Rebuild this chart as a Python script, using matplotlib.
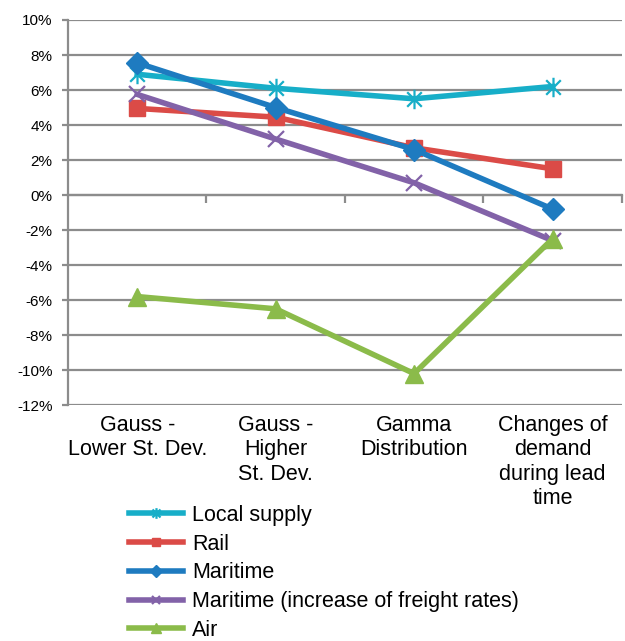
import matplotlib
matplotlib.use("Agg")
import matplotlib.pyplot as plt
from matplotlib.path import Path

plt.rcParams['font.family'] = ['Liberation Sans', 'DejaVu Sans']

categories = ["Gauss -\nLower St. Dev.", "Gauss -\nHigher\nSt. Dev.",
              "Gamma\nDistribution", "Changes of\ndemand\nduring lead\ntime"]
local_supply = [6.9, 6.1, 5.5, 6.2]
rail = [4.95, 4.45, 2.7, 1.5]
maritime = [7.55, 5.0, 2.6, -0.8]
maritime_freight = [5.75, 3.2, 0.7, -2.6]
air = [-5.8, -6.5, -10.2, -2.5]
y_ticks = list(range(-12, 11, 2))

# Asterisk marker: vertical bar plus an X
star = Path([(0, -1), (0, 1), (-0.75, -0.75), (0.75, 0.75), (-0.75, 0.75), (0.75, -0.75)],
            [Path.MOVETO, Path.LINETO, Path.MOVETO, Path.LINETO, Path.MOVETO, Path.LINETO])

series = [
    ("Local supply", local_supply, '#17AEC8', star, 14, 1.6),
    ("Rail", rail, '#DB4B47', 's', 11, 1),
    ("Maritime", maritime, '#1E7BC0', 'D', 11, 1),
    ("Maritime (increase of freight rates)", maritime_freight, '#8262A8', 'x', 11, 1.6),
    ("Air", air, '#8BBB4A', '^', 13, 1),
]

fig = plt.figure(figsize=(6.25, 6.41), dpi=100)
ax = fig.add_axes([0.1088, 0.368, 0.886, 0.6008])

x = list(range(len(categories)))
for name, vals, col, mk, ms, mew in series:
    ax.plot(x, vals, color=col, lw=4, marker=mk, markersize=ms,
            markerfacecolor=col, markeredgecolor=col, markeredgewidth=mew,
            label=name, zorder=3, solid_joinstyle='round')

ax.set_xlim(-0.5, 3.5)
ax.set_ylim(-12, 10)
ax.set_yticks(y_ticks)
ax.set_yticklabels([f"{v}%" for v in y_ticks], fontsize=11)
ax.yaxis.grid(True, color='#8C8C8C', lw=1.6)
ax.set_axisbelow(True)
ax.tick_params(axis='y', length=4.5, color='#8C8C8C', width=1.6, pad=6.5)

for s in ['top', 'right']:
    ax.spines[s].set_visible(False)
ax.spines['left'].set_color('#8C8C8C')
ax.spines['left'].set_linewidth(1.6)
ax.spines['bottom'].set_position(('data', 0))
ax.spines['bottom'].set_color('#8C8C8C')
ax.spines['bottom'].set_linewidth(1.6)
ax.set_xticks([0.5, 1.5, 2.5, 3.5])
ax.set_xticklabels([])
ax.tick_params(axis='x', direction='out', length=6, color='#8C8C8C', width=1.6)

for xi, lab in zip(x, categories):
    ax.annotate(lab, xy=(xi, -12), xycoords='data', xytext=(0, -7),
                textcoords='offset points', ha='center', va='top',
                fontsize=15.5, linespacing=1.22)

fig.legend(loc='upper left', bbox_to_anchor=(0.206, 0.2125), frameon=False,
           fontsize=15.5, handlelength=2.5, handletextpad=0.45,
           labelspacing=0.36, markerscale=0.55, borderaxespad=0, borderpad=0)

fig.savefig("out.png", dpi=100)
